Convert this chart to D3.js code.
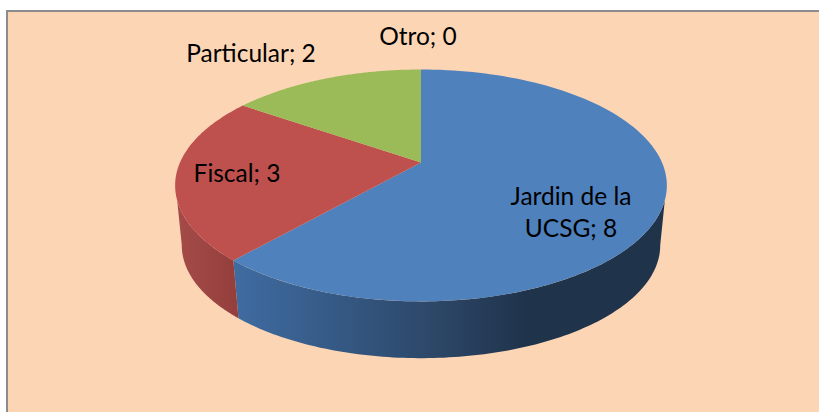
<!DOCTYPE html>
<html><head><meta charset="utf-8">
<script src="https://cdn.jsdelivr.net/npm/d3@7/dist/d3.min.js"></script>
<style>html,body{margin:0;padding:0;background:#fff}svg{display:block}</style>
</head><body><svg id="c" width="819" height="412"></svg>
<script>
const categories = ["Jardin de la UCSG", "Fiscal", "Particular", "Otro"];
const values = [8, 3, 2, 0];
const topColors = ["#4f81bd", "#be504d", "#9bbb59", "#8064a2"];
const sideStops = [
  [[0, "#3f6ca2"], [0.49, "#2b4565"], [0.68, "#1f334b"], [1, "#1f334b"]],
  [[0, "#a44b48"], [1, "#943f3c"]]
];
const labelLines = [["Jardin de la", "UCSG; 8"], ["Fiscal; 3"], ["Particular; 2"], ["Otro; 0"]];
const labelPos = [[571, 205], [237, 182], [251, 62], [418, 45]];

const W = 819, H = 412;
const svg = d3.select("#c");
const defs = svg.append("defs");

// Tilted disc: perspective projection of a unit circle
const cx = 421, cy = 162.5, X = 241, Y = 111.4, K = 0.198;
const depthY = 60.5, shrink = 0.973;
const project = (a, bottom) => {
  const u = Math.sin(a), v = -Math.cos(a), d = 1 - K * v;
  const s = bottom ? shrink : 1;
  return [cx + s * X * u / d, cy + (bottom ? depthY : 0) + s * Y * v / d];
};
const arcPts = (a0, a1, bottom) => d3.range(0, 121).map(i => project(a0 + (a1 - a0) * i / 120, bottom));
const line = d3.line();

svg.append("rect").attr("width", W).attr("height", H).attr("fill", "#ffffff");
svg.append("rect").attr("x", 7).attr("y", 11).attr("width", 830).attr("height", 430)
  .attr("fill", "#fcd5b5").attr("stroke", "#8c8c8c").attr("stroke-width", 2);

const arcs = d3.pie().sort(null).startAngle(0).endAngle(2 * Math.PI)(values);

// Side wall of the front-facing slices, joined at the disc's silhouette
const rad = d3.scaleLinear().domain([0, 180]).range([0, Math.PI]);
const sideLimits = { topR: rad(108.6), botR: rad(101.4), topL: rad(251.4), botL: rad(258.6) };
arcs.forEach((d, i) => {
  if (d.value === 0 || d.startAngle >= sideLimits.topL) return;
  const t0 = Math.max(d.startAngle, sideLimits.topR), b0 = Math.max(d.startAngle, sideLimits.botR);
  const t1 = Math.min(d.endAngle, sideLimits.topL), b1 = Math.min(d.endAngle, sideLimits.botL);
  const pts = arcPts(t0, t1, false).concat(arcPts(b0, b1, true).reverse());
  const xs = d3.extent(pts, p => p[0]);
  const g = defs.append("linearGradient").attr("id", "side" + i)
    .attr("gradientUnits", "userSpaceOnUse")
    .attr("x1", xs[0]).attr("x2", xs[1]).attr("y1", 0).attr("y2", 0);
  sideStops[i].forEach(s => g.append("stop").attr("offset", s[0]).attr("stop-color", s[1]));
  svg.append("path").attr("d", line(pts) + "Z").attr("fill", `url(#side${i})`);
});

// Top faces
arcs.forEach((d, i) => {
  if (d.value === 0) return;
  const pts = [[cx, cy]].concat(arcPts(d.startAngle, d.endAngle, false));
  svg.append("path").attr("d", line(pts) + "Z").attr("fill", topColors[i]);
});

// Labels
categories.forEach((c, i) => {
  const t = svg.append("text").attr("text-anchor", "middle")
    .attr("font-family", "Lato, 'Open Sans', sans-serif").attr("font-size", 24.5).attr("fill", "#000");
  labelLines[i].forEach((l, j) => t.append("tspan")
    .attr("x", labelPos[i][0]).attr("y", labelPos[i][1] + j * 32).text(l));
});
</script></body></html>
